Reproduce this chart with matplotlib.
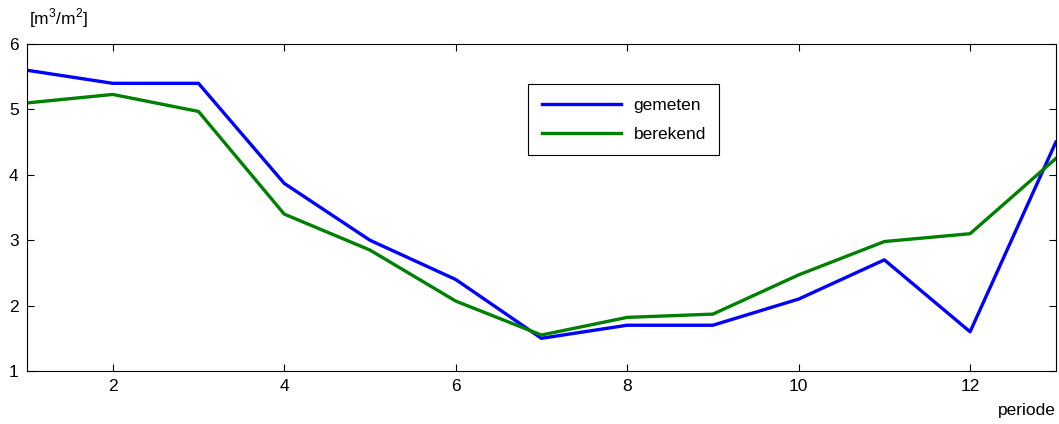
import matplotlib.pyplot as plt

plt.rcParams['font.family'] = ['Liberation Sans', 'DejaVu Sans']
plt.rcParams['mathtext.fontset'] = 'custom'
plt.rcParams['mathtext.rm'] = 'Liberation Sans'

periode = list(range(1, 14))
gemeten = [5.6, 5.4, 5.4, 3.87, 3.0, 2.4, 1.5, 1.7, 1.7, 2.1, 2.7, 1.6, 4.5]
berekend = [5.1, 5.23, 4.97, 3.4, 2.85, 2.07, 1.55, 1.82, 1.87, 2.47, 2.98, 3.1, 4.25]

fs = 12.5

fig = plt.figure(figsize=(10.59, 4.24), dpi=100)
ax = fig.add_axes([0.0255, 0.125, 0.9715, 0.771])

ax.plot(periode, gemeten, color=(0, 0, 1), linewidth=2.4, label='gemeten')
ax.plot(periode, berekend, color=(0, 0.5, 0), linewidth=2.4, label='berekend')

ax.set_xlim(1, 13)
ax.set_ylim(1, 6)
ax.set_xticks([2, 4, 6, 8, 10, 12])
ax.set_yticks([1, 2, 3, 4, 5, 6])
ax.tick_params(direction='in', length=5, width=0.8, top=True, right=True,
               labelsize=fs, pad=6)
for s in ax.spines.values():
    s.set_linewidth(0.8)

leg = ax.legend(loc='upper left', bbox_to_anchor=(0.479, 0.903), fontsize=fs,
                fancybox=False, framealpha=1, edgecolor='black',
                handlelength=4.6, handletextpad=0.7, borderpad=0.75,
                labelspacing=0.8)
leg.get_frame().set_linewidth(0.8)

fig.text(0.027, 0.93, '[m$^3$/m$^2$]', fontsize=fs, ha='left', va='bottom')
fig.text(0.997, 0.015, 'periode', fontsize=fs, ha='right', va='bottom')

fig.savefig('out.png', dpi=100)
